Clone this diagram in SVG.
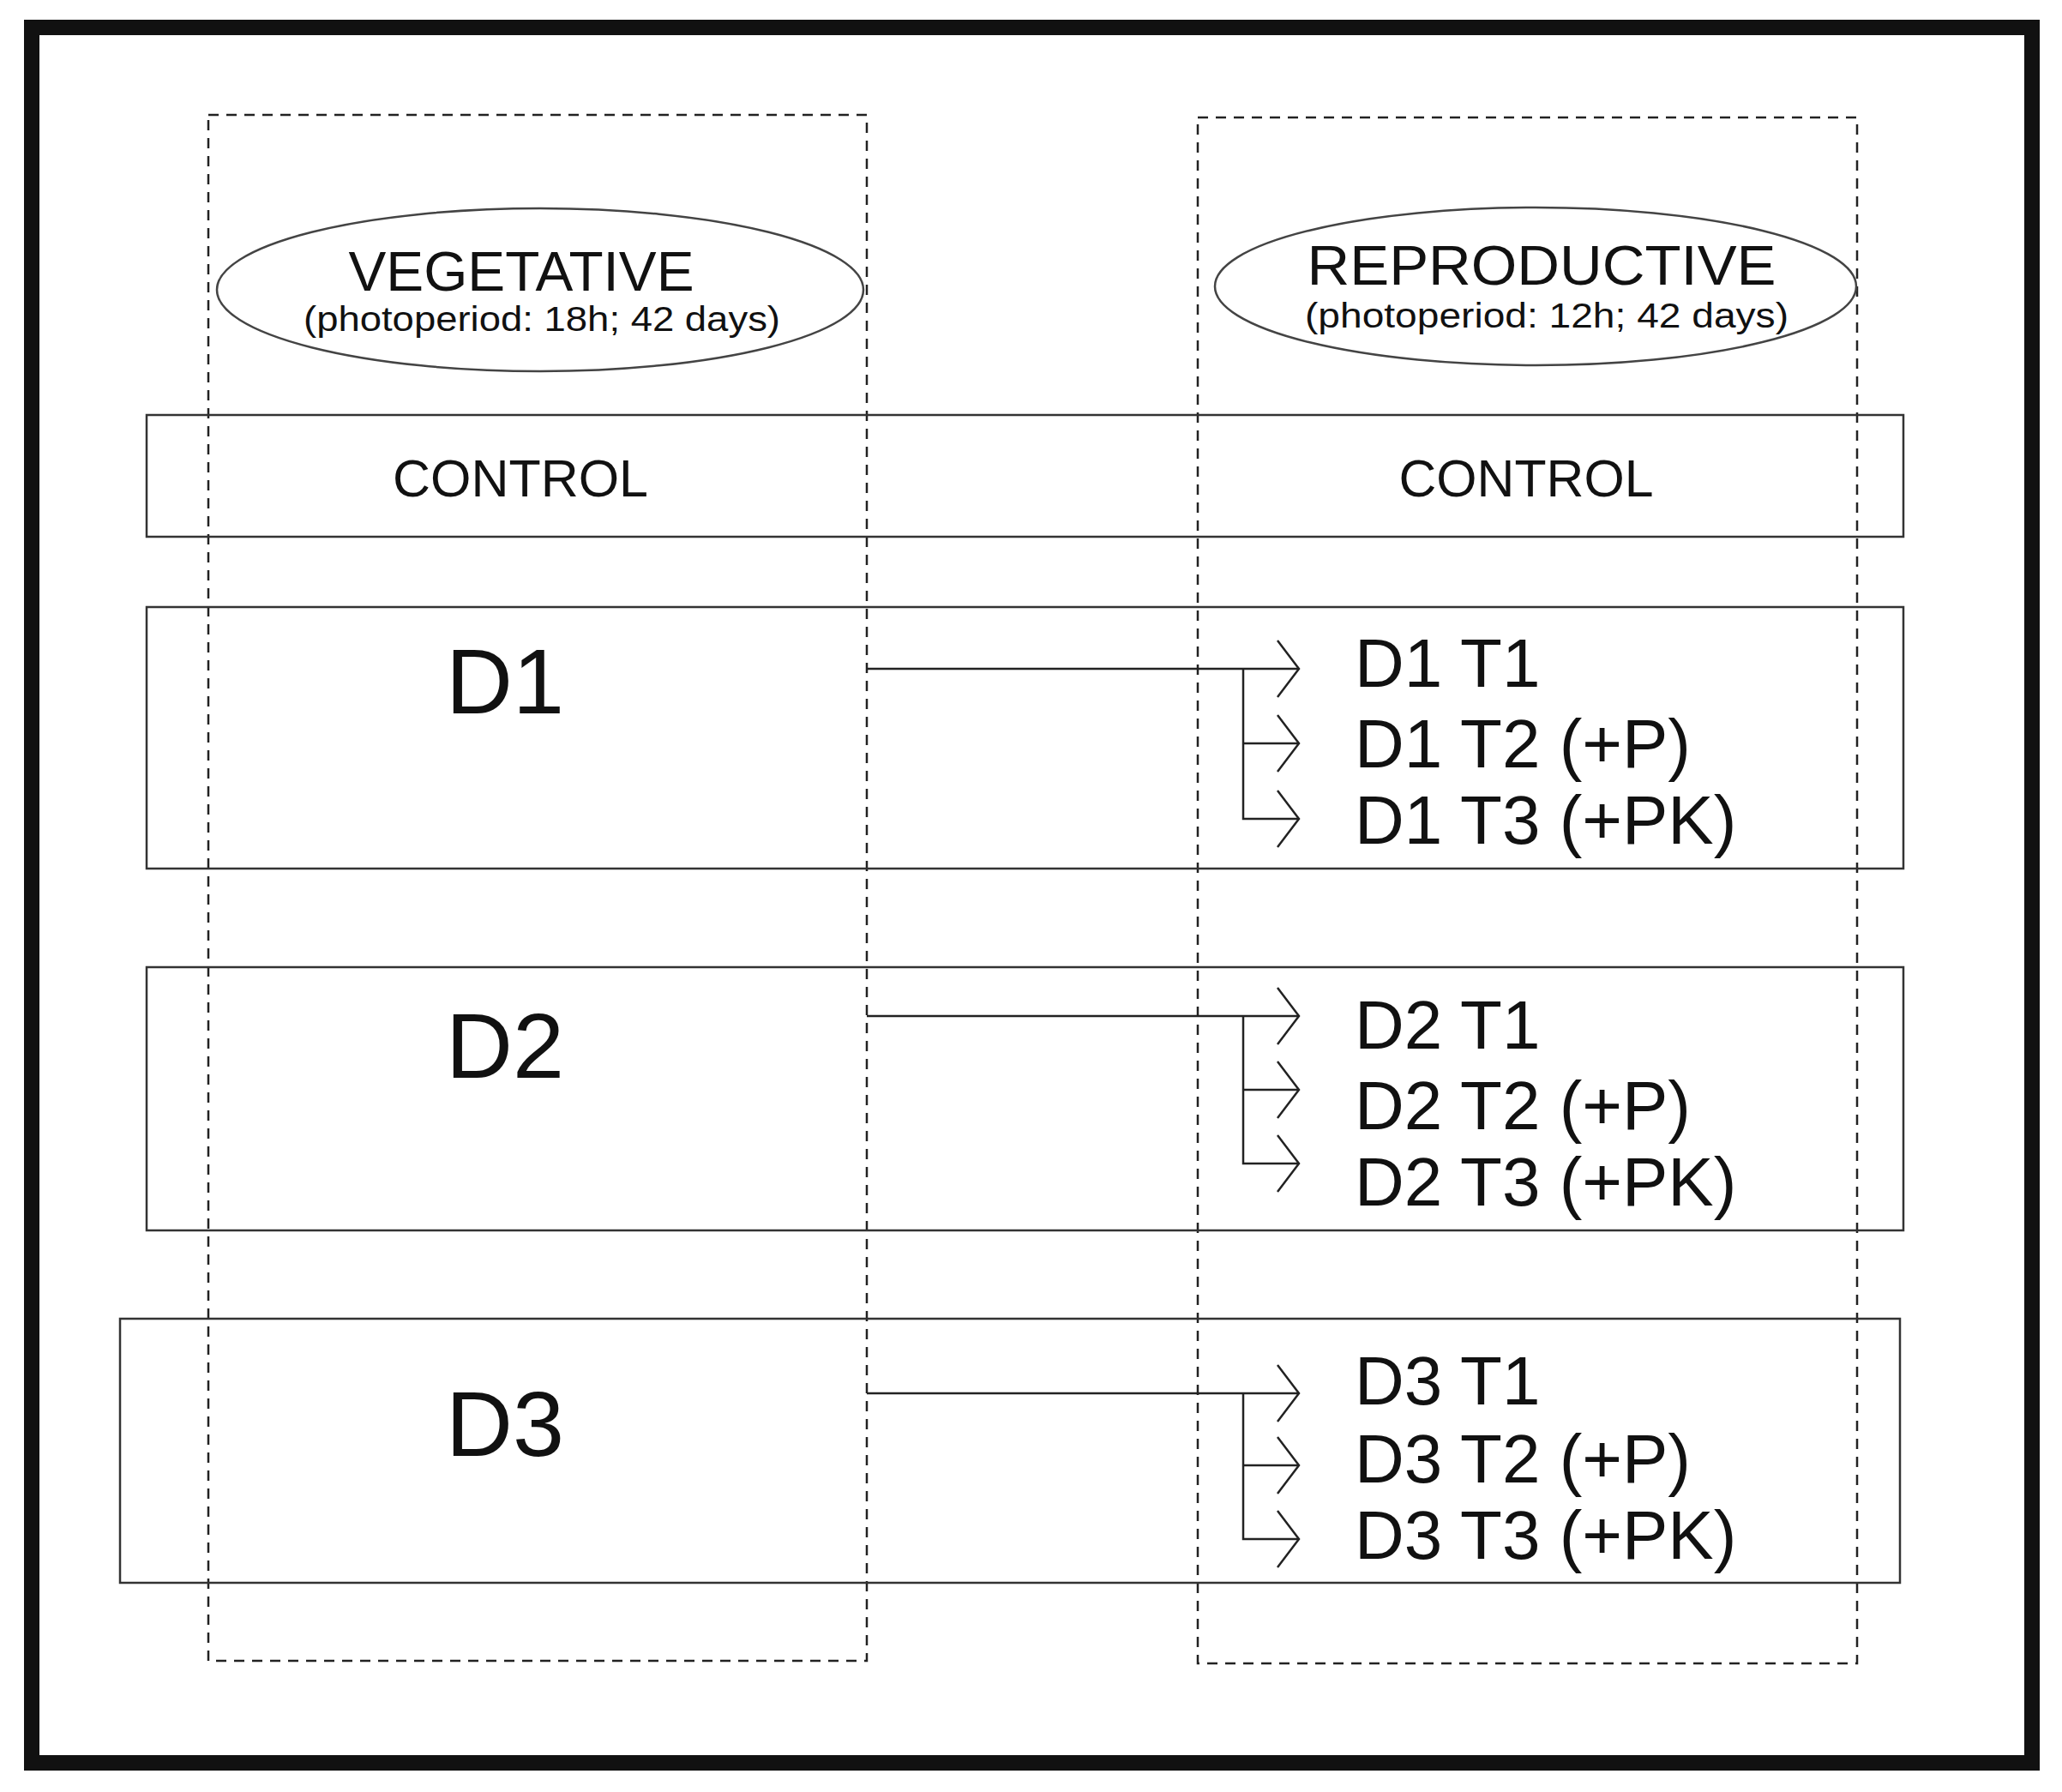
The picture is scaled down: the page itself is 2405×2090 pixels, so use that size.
<svg xmlns="http://www.w3.org/2000/svg" width="2405" height="2090" viewBox="0 0 2405 2090">
<style>
.t{font-family:"Liberation Sans",Arial,sans-serif;fill:#111}
.box{fill:none;stroke:#333;stroke-width:2.5}
.dash{fill:none;stroke:#222;stroke-width:2.5;stroke-dasharray:12 9}
.ln{fill:none;stroke:#222;stroke-width:2.5}
</style>
<defs>
<marker id="ah" markerWidth="30" markerHeight="70" refX="27" refY="35" orient="auto" markerUnits="userSpaceOnUse">
<path d="M2,2 L27,35 L2,68" fill="none" stroke="#222" stroke-width="2.5"/>
</marker>
</defs>
<rect x="0" y="0" width="2405" height="2090" fill="#fff"/>
<rect x="37" y="32" width="2333" height="2024" fill="none" stroke="#111" stroke-width="18"/>
<g id="vegetative">
<rect class="dash" x="243" y="134" width="768" height="1803"/>
<ellipse cx="630" cy="338" rx="377" ry="95" fill="none" stroke="#444" stroke-width="2.5"/>
<text class="t" x="608" y="339" font-size="64" text-anchor="middle" textLength="403" lengthAdjust="spacingAndGlyphs">VEGETATIVE</text>
<text class="t" x="632" y="386" font-size="40" text-anchor="middle" textLength="556" lengthAdjust="spacingAndGlyphs">(photoperiod: 18h; 42 days)</text>
</g>
<g id="reproductive">
<rect class="dash" x="1397" y="137" width="769" height="1803"/>
<ellipse cx="1791" cy="334" rx="374" ry="92" fill="none" stroke="#444" stroke-width="2.5"/>
<text class="t" x="1798" y="332" font-size="64" text-anchor="middle" textLength="547" lengthAdjust="spacingAndGlyphs">REPRODUCTIVE</text>
<text class="t" x="1804" y="382" font-size="40" text-anchor="middle" textLength="564" lengthAdjust="spacingAndGlyphs">(photoperiod: 12h; 42 days)</text>
</g>
<g id="control">
<rect class="box" x="171" y="484" width="2049" height="142"/>
<text class="t" x="607" y="579" font-size="62" text-anchor="middle" textLength="298" lengthAdjust="spacingAndGlyphs">CONTROL</text>
<text class="t" x="1780" y="579" font-size="62" text-anchor="middle" textLength="297" lengthAdjust="spacingAndGlyphs">CONTROL</text>
</g>
<g id="d1">
<rect class="box" x="171" y="708" width="2049" height="305"/>
<text class="t" x="520" y="832" font-size="108">D1</text>
<text class="t" x="1580" y="801" font-size="80">D1 T1</text>
<text class="t" x="1580" y="895" font-size="80">D1 T2 (+P)</text>
<text class="t" x="1580" y="984" font-size="80">D1 T3 (+PK)</text>
</g>
<g id="d2">
<rect class="box" x="171" y="1128" width="2049" height="307"/>
<text class="t" x="520" y="1257" font-size="108">D2</text>
<text class="t" x="1580" y="1223" font-size="80">D2 T1</text>
<text class="t" x="1580" y="1317" font-size="80">D2 T2 (+P)</text>
<text class="t" x="1580" y="1406" font-size="80">D2 T3 (+PK)</text>
</g>
<g id="d3">
<rect class="box" x="140" y="1538" width="2076" height="308"/>
<text class="t" x="520" y="1698" font-size="108">D3</text>
<text class="t" x="1580" y="1638" font-size="80">D3 T1</text>
<text class="t" x="1580" y="1729" font-size="80">D3 T2 (+P)</text>
<text class="t" x="1580" y="1818" font-size="80">D3 T3 (+PK)</text>
</g>
<g id="connectors">
<path class="ln" d="M1011,780 H1515" marker-end="url(#ah)"/>
<path class="ln" d="M1450,780 V955 H1515" marker-end="url(#ah)"/>
<path class="ln" d="M1450,867 H1515" marker-end="url(#ah)"/>
<path class="ln" d="M1011,1185 H1515" marker-end="url(#ah)"/>
<path class="ln" d="M1450,1185 V1357 H1515" marker-end="url(#ah)"/>
<path class="ln" d="M1450,1271 H1515" marker-end="url(#ah)"/>
<path class="ln" d="M1011,1625 H1515" marker-end="url(#ah)"/>
<path class="ln" d="M1450,1625 V1795 H1515" marker-end="url(#ah)"/>
<path class="ln" d="M1450,1709 H1515" marker-end="url(#ah)"/>
</g>
</svg>
